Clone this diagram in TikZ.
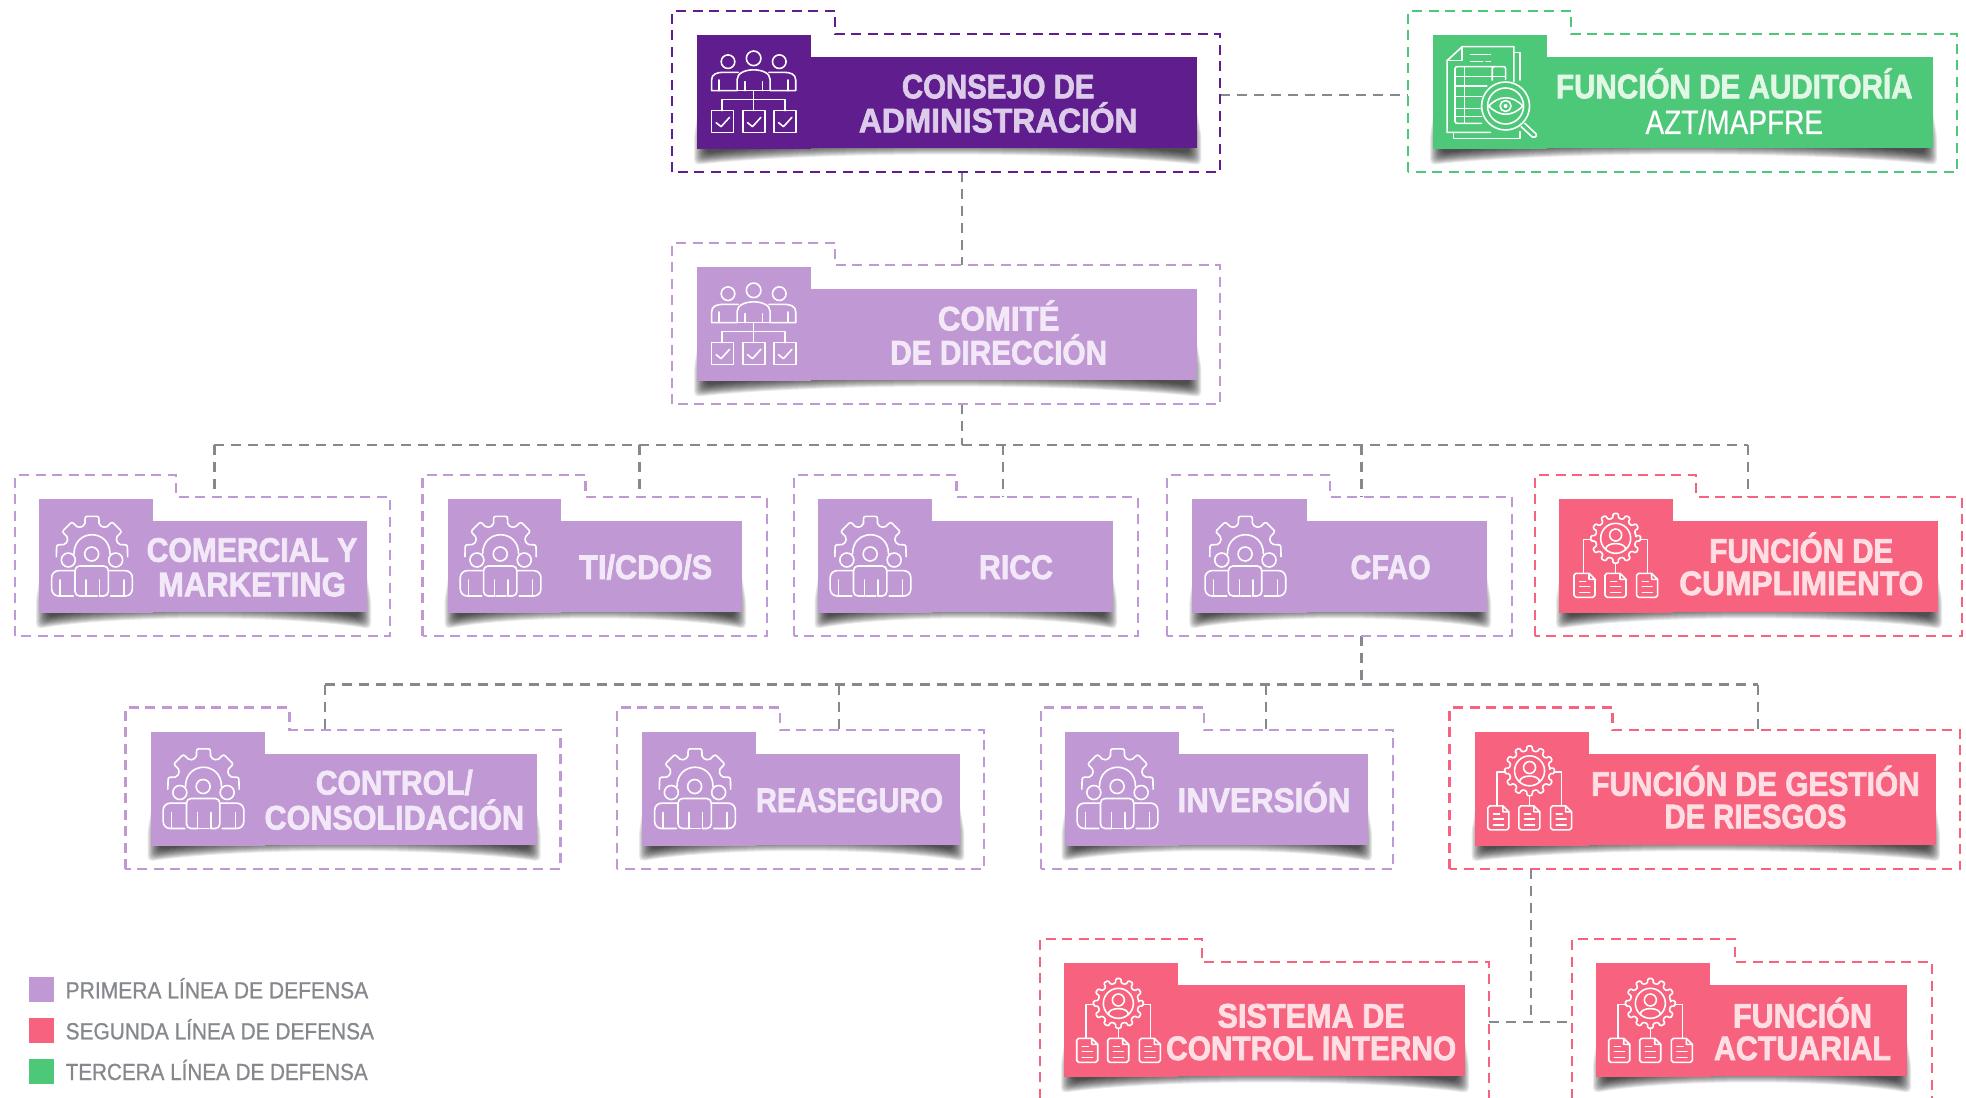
\documentclass[tikz,border=0pt]{standalone}
\usepackage{fontspec}
\usepackage{graphicx}
\newfontfamily\labfont{Liberation Sans}[BoldFeatures={FakeBold=2.2}]
\newfontfamily\reglab{Liberation Sans}[FakeBold=0.5]
\newfontfamily\lgnfont{Liberation Sans}[FakeBold=0.9]
\definecolor{purp}{HTML}{5F1D8D}
\definecolor{lilac}{HTML}{C099D4}
\definecolor{rosa}{HTML}{F7637F}
\definecolor{verde}{HTML}{4DC878}
\definecolor{purpT}{HTML}{DCCBE9}
\definecolor{lilacT}{HTML}{F2E8F7}
\definecolor{rosaT}{HTML}{FFDFE4}
\definecolor{verdeT}{HTML}{E2F7E6}
\definecolor{connC}{HTML}{85888C}
\tikzset{
  conn/.style={draw=connC,line width=2.4pt,dash pattern=on 10pt off 7pt},
  framed/.style={line width=2.4pt,dash pattern=on 10pt off 6.5pt},
  solidpart/.style={inner sep=0pt,outer sep=0pt,draw=none,rectangle},
  iconl/.style={draw=white,line width=1.6pt,line join=round,line cap=round},
  lab/.style={inner sep=0pt,outer sep=0pt,align=center},
  legsq/.style={inner sep=0pt,outer sep=0pt,minimum width=25pt,minimum height=25pt},
  legtx/.style={inner sep=0pt,outer sep=0pt,anchor=base west,text=connC}
}
\newcommand\tw[2]{\setbox0=\hbox{#2}\pgfmathsetmacro\rr{#1/\the\wd0}\strut\smash{\scalebox{\rr}[1]{\box0}}}
% name dL dN dR dT dS dB colour
\newcommand\orgframe[8]{%
  \coordinate (#1-step) at (#4,#6);
  \coordinate (#1-bot) at (#4,#7);
  \coordinate (#1-left) at (#2,#6);
  \draw[framed,draw=#8] (#2,#7) -- (#2,#5) -- (#3,#5) -- (#3,#6) -- (#4,#6) -- (#4,#7) -- cycle;
}
% name L tabR R T colour
\newcommand\orgband[6]{%
  \pgfmathsetmacro\bt{#5+22}\pgfmathsetmacro\bb{#5+113}\pgfmathsetmacro\ww{#4-#2}%
  \pgfmathsetmacro\cA{#2+.25*\ww}\pgfmathsetmacro\cB{#4-.25*\ww}%
  \foreach \s in {0,...,12}{%
    \fill[black,opacity=.085,rounded corners=5pt] ({#2+8},{\bt+10}) -- ({#2+9-\s},{\bb-12}) -- ({#2+9-\s},{\bb+5+\s}) .. controls ({\cA},{\bb-9+\s}) and ({\cB},{\bb-9+\s}) .. ({#4-8+\s},{\bb+5+\s}) -- ({#4-8+\s},{\bb-12}) -- ({#4-8},{\bt+10}) -- cycle;
  }
  \node[solidpart,fill=#6,minimum width={#3-#2},minimum height=114] (#1-tab) at ({(#2+#3)/2},{#5+57}) {};
  \node[solidpart,fill=#6,minimum width={#4-#2},minimum height=91] (#1) at ({(#2+#4)/2},{\bt+45.5}) {};
}
% name cx midbaseline leading colour content
\newcommand\orgtext[6]{%
  \node[lab,text=#5,font=\labfont\bfseries\fontsize{34}{#4}\selectfont] (#1-text) at ({#2},{#3-.2*#4}) {#6};
}
\newcommand\iconboard[2]{%
\begin{scope}[shift={(#1,#2)},x=.3827pt,y=-.3333pt]\begin{scope}[shift={(-97,-105)}]
  \draw[iconl] (178,185) circle [radius=6.8pt] (245,175) circle [radius=7.3pt] (312,185) circle [radius=6.8pt];
  \draw[iconl] (200,272) -- (135,272) -- (135,240) .. controls (135,222) and (150,217) .. (165,217) -- (205,217);
  \draw[iconl] (202,272) -- (202,238) .. controls (202,200) and (288,200) .. (288,238) -- (288,272);
  \draw[iconl] (200,272) -- (290,272);
  \draw[iconl] (290,272) -- (355,272) -- (355,240) .. controls (355,222) and (340,217) .. (325,217) -- (285,217);
  \draw[iconl] (155,272) -- (155,240) (222,272) -- (222,245) (268,272) -- (268,245) (335,272) -- (335,240);
  \draw[iconl] (245,272) -- (245,332) (163,332) -- (163,298) -- (327,298) -- (327,332);
  \foreach \xx in {135,217,298}{
    \draw[iconl] (\xx,332) rectangle (\xx+57,397);
    \draw[iconl] (\xx+12,368) -- (\xx+25,380) -- (\xx+47,352);
  }
\end{scope}\end{scope}}
\newcommand\icongear[2]{%
\begin{scope}[shift={(#1,#2)},x=.3333pt,y=-.3333pt]\begin{scope}[shift={(-117,-117)}]
  \begin{scope}[shift={(276,275)}]
    \draw[iconl,rounded corners=2pt] (172:108) -- (191:108) -- (195:82)
      \foreach \a in {225,270,315}{ -- (\a-15:82) -- (\a-11:108) -- (\a+11:108) -- (\a+15:82) }
      -- (345:82) -- (349:108) -- (368:108);
  \end{scope}
  \draw[iconl] (222,282) .. controls (222,205) and (330,205) .. (330,282);
  \draw[iconl] (275,282) circle [radius=21] (205,300) circle [radius=21] (347,300) circle [radius=21];
  \draw[iconl,rounded corners=4.5pt] (258,408) -- (225,408) -- (225,318) -- (325,318) -- (325,408) -- (298,408);
  \draw[iconl,rounded corners=7pt] (225,332) -- (155,332) -- (155,408) -- (220,408);
  \draw[iconl,rounded corners=7pt] (325,332) -- (397,332) -- (397,408) -- (332,408);
  \draw[iconl] (180,408) -- (180,360) (258,408) -- (258,360) (298,408) -- (298,360) (372,408) -- (372,360) (262,408) -- (292,408);
\end{scope}\end{scope}}
\newcommand\docu[2]{%
  \draw[iconl] (#1+45,#2) -- (#1+6,#2) -- (#1,#2+6) -- (#1,#2+66) -- (#1+6,#2+72) -- (#1+57,#2+72) -- (#1+63,#2+66) -- (#1+63,#2+18) -- (#1+45,#2) -- (#1+45,#2+18) -- (#1+63,#2+18);
  \draw[iconl] (#1+17,#2+25) -- (#1+35,#2+25) (#1+17,#2+40) -- (#1+47,#2+40) (#1+17,#2+57) -- (#1+47,#2+57);
}
\newcommand\icondocs[2]{%
\begin{scope}[shift={(#1,#2)},x=.3333pt,y=-.3333pt]\begin{scope}[shift={(-117,-87)}]
  \begin{scope}[shift={(287,205)}]
    \draw[iconl,rounded corners=1.2pt] (-7:61)
      \foreach \a in {0,30,...,330}{ -- (\a-8:61) -- (\a-6:75) -- (\a+6:75) -- (\a+8:61) } -- cycle;
    \draw[iconl] (0,0) circle [radius=45];
    \draw[iconl] (0,-10) circle [radius=18];
    \draw[iconl] (-30,33) .. controls (-30,10) and (30,10) .. (30,33);
  \end{scope}
  \draw[iconl] (215,208) -- (190,208) -- (190,310) (360,208) -- (383,208) -- (383,310) (287,280) -- (287,310);
  \docu{162}{310}\docu{255}{310}\docu{350}{310}
\end{scope}\end{scope}}
\newcommand\iconaudit[2]{%
\begin{scope}[shift={(#1,#2)},x=.361pt,y=-.3333pt]\begin{scope}[shift={(-91,-105)}]
  \draw[iconl] (250,397) -- (130,397) -- (130,182) -- (172,140) -- (315,140) -- (315,245);
  \draw[iconl] (172,140) -- (172,182) -- (130,182);
  \draw[iconl] (315,158) -- (332,158) -- (332,240);
  \draw[iconl] (148,397) -- (148,415) -- (332,415) -- (332,395);
  \draw[iconl] (195,163) -- (250,163) (195,185) -- (228,185) (238,185) -- (250,185);
  \draw[iconl,rounded corners=2pt] (255,240) -- (255,200) -- (292,200) -- (292,238);
  \draw[iconl,rounded corners=2pt] (225,370) -- (152,370) -- (152,200) -- (260,200);
  \draw[iconl] (178,200) -- (178,370);
  \draw[iconl] (152,230) -- (290,230) (152,258) -- (240,258) (152,290) -- (225,290) (152,325) -- (222,325) (152,350) -- (225,350);
  \draw[iconl,fill=verde] (292,318) circle [radius=24pt];
  \draw[iconl] (292,318) circle [radius=18pt];
  \draw[iconl] (245,318) .. controls (275,285) and (310,285) .. (340,318) .. controls (310,351) and (275,351) .. (245,318) -- cycle;
  \draw[iconl] (292,318) circle [radius=5.5pt];
  \fill[white] (292,318) circle [radius=2pt];
  \draw[iconl,rounded corners=2pt] (345,370) -- (380,405) -- (370,415) -- (335,380);
\end{scope}\end{scope}}
\begin{document}
\begin{tikzpicture}[x=1pt,y=-1pt]
\useasboundingbox (0,0) rectangle (1966,1098);
\clip (0,0) rectangle (1966,1098);

% free ends of the connectors
\coordinate (consejo-r) at (1220,95);
\coordinate (audit-l) at (1408,95);
\coordinate (c1) at (962,172);
\coordinate (c2) at (962,265);
\coordinate (c3) at (962,404);
\coordinate (c4) at (962,445);
\coordinate (busA) at (214.4,445);
\coordinate (busB) at (1748,445);
\coordinate (dT) at (639.5,445);
\coordinate (dR) at (1003,445);
\coordinate (dF) at (1361.6,445);
\coordinate (e1) at (1361.6,636);
\coordinate (e2) at (1361.6,684.6);
\coordinate (busC) at (324.7,684.6);
\coordinate (busD) at (1758,684.6);
\coordinate (dRe) at (838.8,684.6);
\coordinate (dI) at (1266,684.6);
\coordinate (g1) at (1531,869);
\coordinate (g2) at (1531,1021.8);
\coordinate (sis-r) at (1489,1021.8);
\coordinate (act-l) at (1572,1021.8);

\draw[conn] (consejo-r) -- (audit-l);
\draw[conn] (c1) -- (c2);
\draw[conn] (c3) -- (c4);
\draw[conn] (busA) -- (busB);
\foreach \k in {busA,dT,dR,dF,busB}{ \draw[conn] (\k) -- (\k |- 0,497); }
\draw[conn] (e1) -- (e2);
\draw[conn] (busC) -- (busD);
\foreach \k in {busC,dRe,dI,busD}{ \draw[conn] (\k) -- (\k |- 0,730); }
\draw[conn] (g1) -- (g2);
\draw[conn] (sis-r) -- (act-l);

% frames
\orgframe{consejoF}{672}{835}{1220}{11}{34}{172}{purp}
\orgframe{auditF}{1408}{1571}{1957}{11}{34}{172}{verde}
\orgframe{comiteF}{672}{835}{1220}{243}{265}{404}{lilac}
\orgframe{comercialF}{15}{176}{390}{475}{497}{636}{lilac}
\orgframe{tiF}{422.5}{585.5}{767}{475}{497}{636}{lilac}
\orgframe{riccF}{793.7}{956.6}{1138}{475}{497}{636}{lilac}
\orgframe{cfaoF}{1167}{1330}{1512}{475}{497}{636}{lilac}
\orgframe{cumpF}{1535}{1696}{1962}{475}{497}{636}{rosa}
\orgframe{controlF}{125.4}{289.6}{560.5}{707.5}{730}{869}{lilac}
\orgframe{reasF}{617}{780}{984}{707.5}{730}{869}{lilac}
\orgframe{invF}{1040.7}{1203.7}{1393}{707.5}{730}{869}{lilac}
\orgframe{gestF}{1449.5}{1612.5}{1960}{707.5}{730}{869}{rosa}
\orgframe{sisF}{1040}{1202}{1489}{939}{961.7}{1115}{rosa}
\orgframe{actF}{1572}{1735}{1932}{939}{961.7}{1115}{rosa}

% bands
\orgband{consejo}{697}{811}{1197.4}{35}{purp}
\orgband{audit}{1433}{1547}{1933}{35}{verde}
\orgband{comite}{697}{811}{1197.4}{267}{lilac}
\orgband{comercial}{39}{153}{367}{499}{lilac}
\orgband{ti}{447.6}{560.5}{742}{499}{lilac}
\orgband{ricc}{817.5}{931.6}{1113}{499}{lilac}
\orgband{cfao}{1192.4}{1306.5}{1487}{499}{lilac}
\orgband{cump}{1559}{1673}{1938}{499}{rosa}
\orgband{control}{150.5}{264.5}{536.6}{731.5}{lilac}
\orgband{reas}{642}{756}{960.4}{731.5}{lilac}
\orgband{inv}{1064.5}{1178.6}{1368}{731.5}{lilac}
\orgband{gest}{1474.5}{1588.6}{1936}{731.5}{rosa}
\orgband{sis}{1064}{1178}{1465}{963}{rosa}
\orgband{act}{1596}{1710}{1907}{963}{rosa}

% icons
\iconboard{697}{35}
\iconboard{697}{267}
\iconaudit{1433}{35}
\icongear{39}{499}
\icongear{447.6}{499}
\icongear{817.5}{499}
\icongear{1192.4}{499}
\icongear{150.5}{731.5}
\icongear{642}{731.5}
\icongear{1064.5}{731.5}
\icondocs{1559}{499}
\icondocs{1472.9}{731.5}
\icondocs{1061.7}{964}
\icondocs{1593.7}{964}

% labels
\orgtext{consejo}{998.2}{115.3}{34}{purpT}{\tw{192.5}{CONSEJO DE}\\\tw{278.6}{ADMINISTRACIÓN}}
\node[lab,font=\fontsize{34}{35.7}\selectfont] (audit-text) at (1734.3,109) {\textcolor{verdeT}{\tw{356.6}{\labfont\bfseries FUNCIÓN DE AUDITORÍA}}\\\textcolor{white}{\tw{177.6}{\reglab AZT/MAPFRE}}};
\orgtext{comite}{998.7}{347.4}{34}{lilacT}{\tw{121.6}{COMITÉ}\\\tw{217}{DE DIRECCIÓN}}
\orgtext{comercial}{252}{579}{34.5}{lilacT}{\tw{210.6}{COMERCIAL Y}\\\tw{187.7}{MARKETING}}
\orgtext{ti}{645.7}{579}{35}{lilacT}{\tw{133}{TI/CDO/S}}
\orgtext{ricc}{1016}{579}{35}{lilacT}{\tw{74}{RICC}}
\orgtext{cfao}{1390.6}{579}{35}{lilacT}{\tw{80}{CFAO}}
\orgtext{cump}{1801.3}{578.8}{32.5}{rosaT}{\tw{184}{FUNCIÓN DE}\\\tw{244}{CUMPLIMIENTO}}
\orgtext{control}{394.3}{812}{35}{lilacT}{\tw{157}{CONTROL/}\\\tw{259.5}{CONSOLIDACIÓN}}
\orgtext{reas}{849.5}{812}{35}{lilacT}{\tw{187}{REASEGURO}}
\orgtext{inv}{1264}{812}{35}{lilacT}{\tw{173}{INVERSIÓN}}
\orgtext{gest}{1755.5}{812}{32.5}{rosaT}{\tw{328.5}{FUNCIÓN DE GESTIÓN}\\\tw{182}{DE RIESGOS}}
\orgtext{sis}{1311.2}{1043.8}{32.5}{rosaT}{\tw{187.3}{SISTEMA DE}\\\tw{290}{CONTROL INTERNO}}
\orgtext{act}{1802.5}{1043.8}{32.5}{rosaT}{\tw{139}{FUNCIÓN}\\\tw{177}{ACTUARIAL}}

% legend
\node[legsq,fill=lilac] (leg1) at (41.5,989.7) {};
\node[legsq,fill=rosa] (leg2) at (41.5,1030.5) {};
\node[legsq,fill=verde] (leg3) at (41.5,1071.5) {};
\node[legtx,font=\lgnfont\fontsize{23.3}{28}\selectfont] (leg1t) at (65.7,998.3) {\tw{302.6}{PRIMERA LÍNEA DE DEFENSA}};
\node[legtx,font=\lgnfont\fontsize{23.3}{28}\selectfont] (leg2t) at (65.7,1039.3) {\tw{308.3}{SEGUNDA LÍNEA DE DEFENSA}};
\node[legtx,font=\lgnfont\fontsize{23.3}{28}\selectfont] (leg3t) at (65.7,1080) {\tw{302}{TERCERA LÍNEA DE DEFENSA}};
\end{tikzpicture}
\end{document}
